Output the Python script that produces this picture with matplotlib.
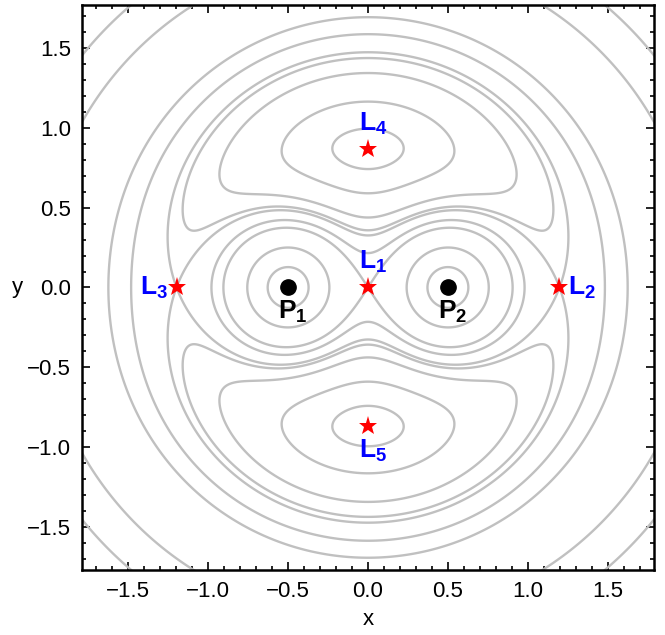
import matplotlib
matplotlib.use("Agg")
import matplotlib.pyplot as plt
from matplotlib.ticker import MultipleLocator
import numpy as np

plt.rcParams['font.family'] = ['Liberation Sans', 'DejaVu Sans']
plt.rcParams['mathtext.fontset'] = 'custom'
plt.rcParams['mathtext.rm'] = 'Liberation Sans'
plt.rcParams['mathtext.bf'] = 'Liberation Sans:bold'

# equal-mass restricted three-body problem
mu = 0.5
primaries_x = [-0.5, 0.5]
primaries_y = [0.0, 0.0]
primary_names = ['P_1', 'P_2']

lagrange_names = ['L_1', 'L_2', 'L_3', 'L_4', 'L_5']
lagrange_x = [0.0, 1.1984, -1.1984, 0.0, 0.0]
lagrange_y = [0.0, 0.0, 0.0, 0.866, -0.866]

# effective potential levels drawn as contours
levels = [1.393, 1.467, 1.60, 1.69, 1.7284, 1.86, 2.0, 2.64, 4.55]
# levels only drawn away from the primaries (corner arcs)
outer_levels = [3.1]

xs = np.linspace(-1.8, 1.8, 901)
X, Y = np.meshgrid(xs, xs)
r1 = np.hypot(X - primaries_x[0], Y)
r2 = np.hypot(X - primaries_x[1], Y)
omega = 0.5 * (X**2 + Y**2) + (1 - mu) / r1 + mu / r2
omega_far = np.where((r1 < 0.8) | (r2 < 0.8), np.nan, omega)

fig = plt.figure(figsize=(6.65, 6.35), dpi=100)
ax = fig.add_axes([0.1233, 0.1024, 0.8602, 0.8898])

line_kw = dict(colors='#c0c0c0', linewidths=1.7)
ax.contour(X, Y, omega, levels=levels, **line_kw)
ax.contour(X, Y, omega_far, levels=outer_levels, **line_kw)

ax.plot(primaries_x, primaries_y, 'o', color='black', markersize=11)
ax.plot(lagrange_x, lagrange_y, '*', color='red', markersize=14,
        markeredgewidth=0)

lab = dict(color='blue', fontsize=19, fontweight='bold')
ax.text(0.03, 0.08, r'$\mathbf{L_1}$', ha='center', va='bottom', **lab)
ax.text(1.25, 0.0, r'$\mathbf{L_2}$', ha='left', va='center', **lab)
ax.text(-1.25, 0.0, r'$\mathbf{L_3}$', ha='right', va='center', **lab)
ax.text(0.03, 0.94, r'$\mathbf{L_4}$', ha='center', va='bottom', **lab)
ax.text(0.03, -0.94, r'$\mathbf{L_5}$', ha='center', va='top', **lab)
for px, name in zip(primaries_x, primary_names):
    ax.text(px + 0.03, -0.07, r'$\mathbf{%s}$' % name, color='black',
            fontsize=19, ha='center', va='top')

ax.set_xlim(-1.79, 1.79)
ax.set_ylim(-1.77, 1.77)
ax.xaxis.set_major_locator(MultipleLocator(0.5))
ax.yaxis.set_major_locator(MultipleLocator(0.5))
ax.xaxis.set_minor_locator(MultipleLocator(0.1))
ax.yaxis.set_minor_locator(MultipleLocator(0.1))
ax.xaxis.set_major_formatter(lambda v, p: f'{v:.1f}'.replace('-', '\u2212'))
ax.yaxis.set_major_formatter(lambda v, p: f'{v:.1f}'.replace('-', '\u2212'))
ax.tick_params(which='both', direction='in', top=True, right=True,
               labelsize=16, width=1.2)
ax.tick_params(which='major', length=6, pad=8)
ax.tick_params(which='minor', length=3)
for s in ax.spines.values():
    s.set_linewidth(1.8)

ax.set_xlabel('x', fontsize=16, va='center')
ax.set_ylabel('y', fontsize=16, rotation=0, va='center', ha='center')
ax.xaxis.set_label_coords(0.5, -0.088)
ax.yaxis.set_label_coords(-0.112, 0.5)

fig.savefig('out.png', dpi=100)
